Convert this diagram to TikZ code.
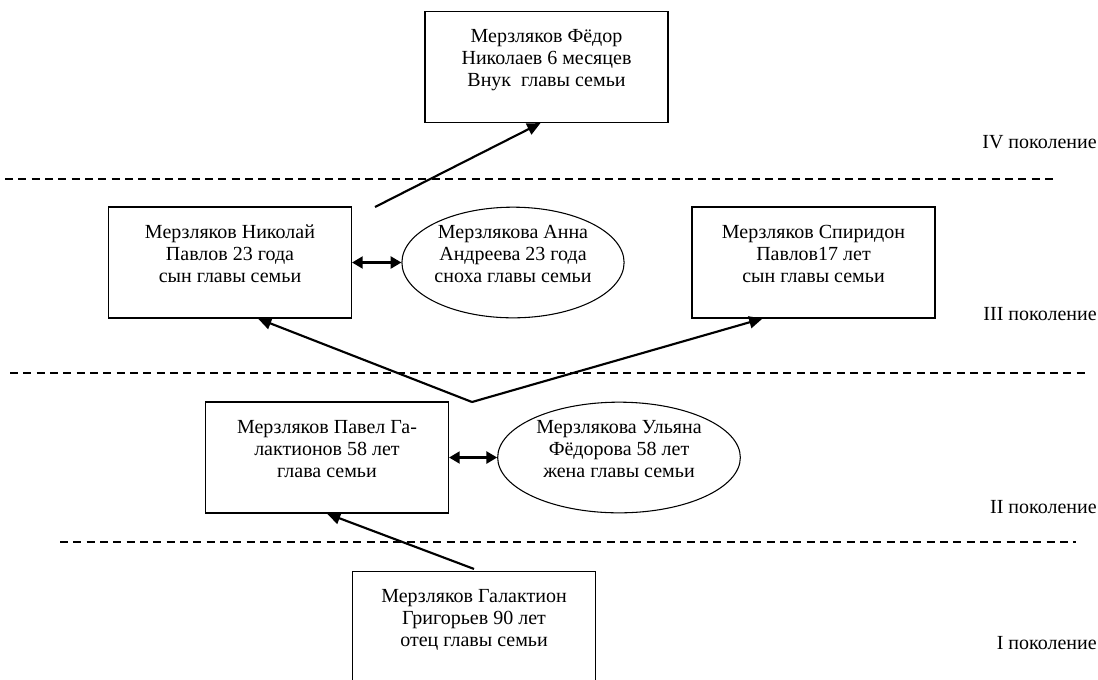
\documentclass[tikz,border=0pt]{standalone}
\usepackage{fontspec}
\setmainfont{Liberation Serif}
\usetikzlibrary{shapes.geometric,arrows.meta,calc}
\newcommand{\fs}{\fontsize{15}{16.5}\selectfont}

\begin{document}
\begin{tikzpicture}[x=0.75pt,y=-0.75pt,
  person/.style={draw,line width=1.1pt,minimum width=182pt,minimum height=83pt,inner sep=0pt,align=center,font=\fs},
  spouse/.style={person,ellipse,line width=0.8pt},
  gen/.style={anchor=east,inner sep=0pt,font=\fs},
  level/.style={line width=0.8pt,dash pattern=on 6pt off 4pt},
  child/.style={line width=1.6pt,-{Triangle[length=10pt,width=9pt]}},
  pair/.style={line width=1.6pt,{Triangle[length=8pt,width=9pt]}-{Triangle[length=8pt,width=9pt]}}]
\useasboundingbox (0,0) rectangle (1098,679);

\node[person] (fyodor) at (546.5,67) {Мерзляков Фёдор\\Николаев 6 месяцев\\Внук~ главы семьи\\[-3pt]\mbox{}};
\node[person] (nikolai) at (230,262.5) {Мерзляков Николай\\Павлов 23 года\\сын главы семьи\\[-3pt]\mbox{}};
\node[spouse,minimum width=166.5pt] (anna) at (513,262.5) {Мерзлякова Анна\\Андреева 23 года\\сноха главы семьи\\[-3pt]\mbox{}};
\node[person] (spiridon) at (813.5,262.5) {Мерзляков Спиридон\\Павлов17 лет\\сын главы семьи\\[-3pt]\mbox{}};
\node[person] (pavel) at (327,457.5) {Мерзляков Павел Га-\\лактионов 58 лет\\глава семьи\\[-3pt]\mbox{}};
\node[spouse] (ulyana) at (619,457.5) {Мерзлякова Ульяна\\Фёдорова 58 лет\\жена главы семьи\\[-3pt]\mbox{}};
\node[person] (galaktion) at (474,627) {Мерзляков Галактион\\Григорьев 90 лет\\отец главы семьи\\[-3pt]\mbox{}};

\node[gen] (gen4) at (1097,142) {IV поколение};
\node[gen] (gen3) at (1097,314) {III поколение};
\node[gen] (gen2) at (1097,507) {II поколение};
\node[gen] (gen1) at (1097,643) {I поколение};

\coordinate (start) at (375,207);
\coordinate (fork) at (472,402);

\draw[level] (5,179) -- (1058,179);
\draw[level] (10,373) -- (1086,373);
\draw[level] (60,542) -- (1076,542);

\draw[child] (start) -- ($(fyodor.south)+(-6,0)$);
\draw[child] (fork) -- ($(nikolai.south)+(28,0)$);
\draw[child] (fork) -- ($(spiridon.south)+(-51,0)$);
\draw[child] ($(galaktion.north)+(0,-2)$) -- (pavel.south);
\draw[pair] (nikolai) -- (anna);
\draw[pair] (pavel) -- (ulyana);
\end{tikzpicture}
\end{document}
